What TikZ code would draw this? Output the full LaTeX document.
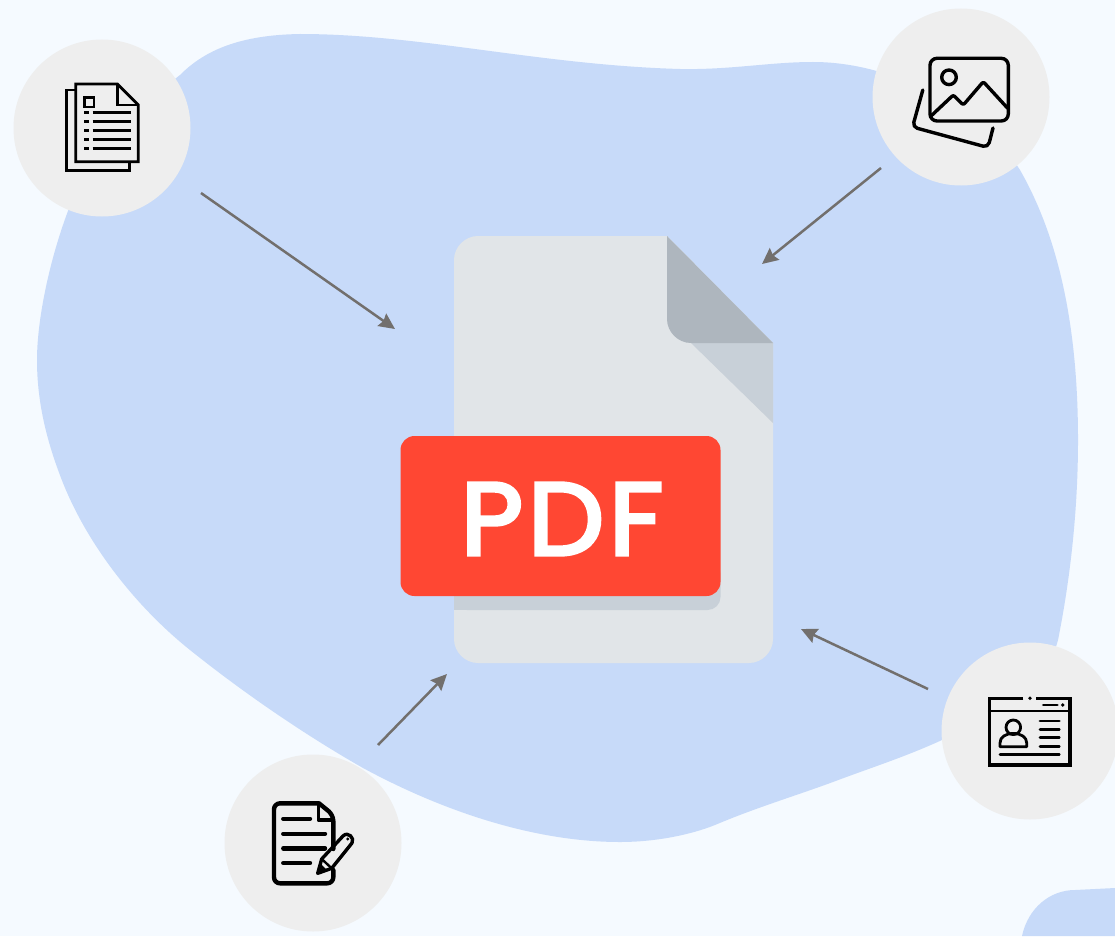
\documentclass[tikz,border=0pt]{standalone}
\usepackage{fontspec}
\newfontfamily\pdffont[FakeBold=3.5,FakeStretch=1.05,LetterSpace=4.5]{Poppins}
\usetikzlibrary{arrows.meta}
\definecolor{bgc}{HTML}{F5FAFF}
\definecolor{blobc}{HTML}{C7DAF9}
\definecolor{circc}{HTML}{EEEEEE}
\definecolor{arrc}{HTML}{726F6D}
\definecolor{docc}{HTML}{E1E5E8}
\definecolor{foldc}{HTML}{AEB6BE}
\definecolor{shadc}{HTML}{C8D0D8}
\definecolor{redc}{HTML}{FF4733}
\tikzset{
 iconcircle/.style={circle,fill=circc,minimum size=177pt,inner sep=0pt},
 flow/.style={draw=arrc,line width=2.5pt,-{Stealth[inset=2pt,length=16pt,width=15pt]}},
 thinicon/.style={draw=black,line width=2.8pt,line join=miter},
 boldicon/.style={draw=black,line width=3.4pt,line cap=round,line join=round},
 heavyicon/.style={draw=black,line width=4.4pt,line cap=round,line join=round},
}
\begin{document}
\begin{tikzpicture}[x=1pt,y=-1pt]
\useasboundingbox (0,0) rectangle (1115,936);
\fill[bgc] (0,0) rectangle (1115,936);
% blob
\fill[blobc] (180,75) .. controls (205,50) and (240,35) .. (300,34)
 .. controls (420,34) and (540,65) .. (680,69)
 .. controls (730,70) and (770,62) .. (813,62)
 .. controls (900,62) and (985,115) .. (1020,170)
 .. controls (1060,240) and (1078,330) .. (1078,440)
 .. controls (1078,520) and (1068,590) .. (1058,640)
 .. controls (1045,690) and (1000,715) .. (942,740)
 .. controls (905,757) and (870,768) .. (833,782)
 .. controls (795,796) and (755,808) .. (715,825)
 .. controls (690,835) and (655,842) .. (620,842)
 .. controls (540,842) and (450,815) .. (363,768)
 .. controls (300,732) and (240,690) .. (190,650)
 .. controls (140,610) and (90,550) .. (63,483)
 .. controls (48,445) and (37,405) .. (37,360)
 .. controls (37,300) and (65,190) .. (110,130)
 .. controls (130,110) and (155,95) .. (180,75) -- cycle;
\fill[blobc] (1022,936) .. controls (1028,908) and (1050,890) .. (1075,890) -- (1115,888) -- (1115,936) -- cycle;
% circles
\node[iconcircle] (cdoc) at (102,128) {};
\node[iconcircle] (cimg) at (961,97) {};
\node[iconcircle] (ccard) at (1030,731) {};
\node[iconcircle] (cnote) at (313,843) {};
% arrows
\coordinate (a1s) at (201,193); \coordinate (a1e) at (395,329);
\coordinate (a2s) at (881,168); \coordinate (a2e) at (762,264);
\coordinate (a3s) at (928,689); \coordinate (a3e) at (801,629);
\coordinate (a4s) at (378,745); \coordinate (a4e) at (447,674);
\draw[flow] (a1s) -- (a1e);
\draw[flow] (a2s) -- (a2e);
\draw[flow] (a3s) -- (a3e);
\draw[flow] (a4s) -- (a4e);
% pdf file
\fill[docc] (454,260) .. controls (454,247) and (465,236) .. (478,236) -- (667,236) -- (773,343) -- (773,639) .. controls (773,652) and (762,663) .. (749,663) -- (478,663) .. controls (465,663) and (454,652) .. (454,639) -- cycle;
\fill[shadc] (691,343) -- (773,423) -- (773,343) -- cycle;
\fill[foldc] (667,236) -- (773,343) -- (691,343) .. controls (678,343) and (667,332) .. (667,319) -- cycle;
\fill[shadc,rounded corners=13pt] (454,560) -- (720.5,560) -- (720.5,610) -- (454,610) [sharp corners] -- cycle;
\fill[shadc] (454,560) rectangle (480,610);
\node[fill=redc,rounded corners=14pt,minimum width=320pt,minimum height=160pt,inner sep=0pt] (badge) at (560.5,516) {};
\node[text=white,inner sep=0pt,font=\pdffont\fontsize{103}{103}\selectfont] (badgetext) at (562,519) {PDF};
% icon 1
\draw[thinicon] (75.7,90) -- (66.7,90) -- (66.7,170.7) -- (129.3,170.7) -- (129.3,161.7);
\draw[thinicon] (75.7,84) -- (117.3,84) -- (138.3,105) -- (138.3,161.7) -- (75.7,161.7) -- cycle;
\draw[thinicon] (117.3,84) -- (117.3,105) -- (138.3,105);
\draw[thinicon] (84.3,97.3) rectangle (94,107);
\foreach \yy in {112.7,121.7,130.7,139.3,148.3}{
 \draw[thinicon] (84.3,\yy) -- (89.3,\yy) (92.7,\yy) -- (130.7,\yy);
}
% icon 2
\draw[boldicon,rounded corners=7pt] (930,58.3) rectangle (1008.3,121);
\draw[boldicon] (949,77.3) circle[radius=7.3pt];
\draw[boldicon,rounded corners=2pt] (931,116) -- (953.3,95) -- (963.3,105) -- (983.3,81.7) -- (1007.7,108.3);
\draw[boldicon,rounded corners=5pt] (922.8,90) -- (912.5,127) -- (988,147.5) -- (993,128);
% icon 3
\draw[boldicon,line cap=butt,line join=miter] (1023.3,698.3) -- (989.3,698.3) -- (989.3,765) -- (1070,765) -- (1070,698.3) -- (1036,698.3);
\fill (1030,698.3) circle[radius=1.9pt];
\draw[boldicon,line width=2.8pt] (989.3,711) -- (1070,711);
\draw[boldicon,line width=2.8pt] (1043.3,705) -- (1057.3,705);
\fill (1062.7,705) circle[radius=1.9pt];
\draw[boldicon,line width=2.8pt] (1013.3,727.3) circle[radius=7.3pt];
\draw[boldicon,line width=2.8pt] (1000,746.7) -- (1026.7,746.7) -- (1026.7,743) .. controls (1026.7,737) and (1021,733.5) .. (1013.3,733.5) .. controls (1005.5,733.5) and (1000,737) .. (1000,743) -- cycle;
\foreach \yy in {721,729.3,737.7,746.3}{
 \draw[boldicon,line width=2.8pt] (1040,\yy) -- (1059.3,\yy);
}
\draw[boldicon,line width=2.8pt] (1000,754.7) -- (1059.3,754.7);
% icon 4
\draw[heavyicon,rounded corners=6pt] (333.3,849) -- (333.3,815) [sharp corners] -- (319,803.3) [rounded corners=6pt] -- (274,803.3) -- (274,883.3) -- (333.3,883.3) -- (333.3,870);
\draw[heavyicon,line width=3.4pt] (318.3,803.3) -- (318.3,820) -- (333.3,820);
\foreach \yy/\xx in {818.7/310,833.7/325,848.3/325,863/310}{
 \draw[heavyicon] (283.3,\yy) -- (\xx,\yy);
}
\draw[heavyicon,line width=3.4pt] (317.7,873.3) -- (321.7,859) -- (343,836) .. controls (348,831) and (355,838) .. (352,843) -- (331.7,868.3) -- cycle;
\draw[boldicon,line width=2.4pt] (321.7,859) -- (331.7,868.3);
\fill (317.7,873.3) -- (320,863) -- (327,870) -- cycle;
\fill (347.7,839) circle[radius=1.6pt];
\end{tikzpicture}
\end{document}
